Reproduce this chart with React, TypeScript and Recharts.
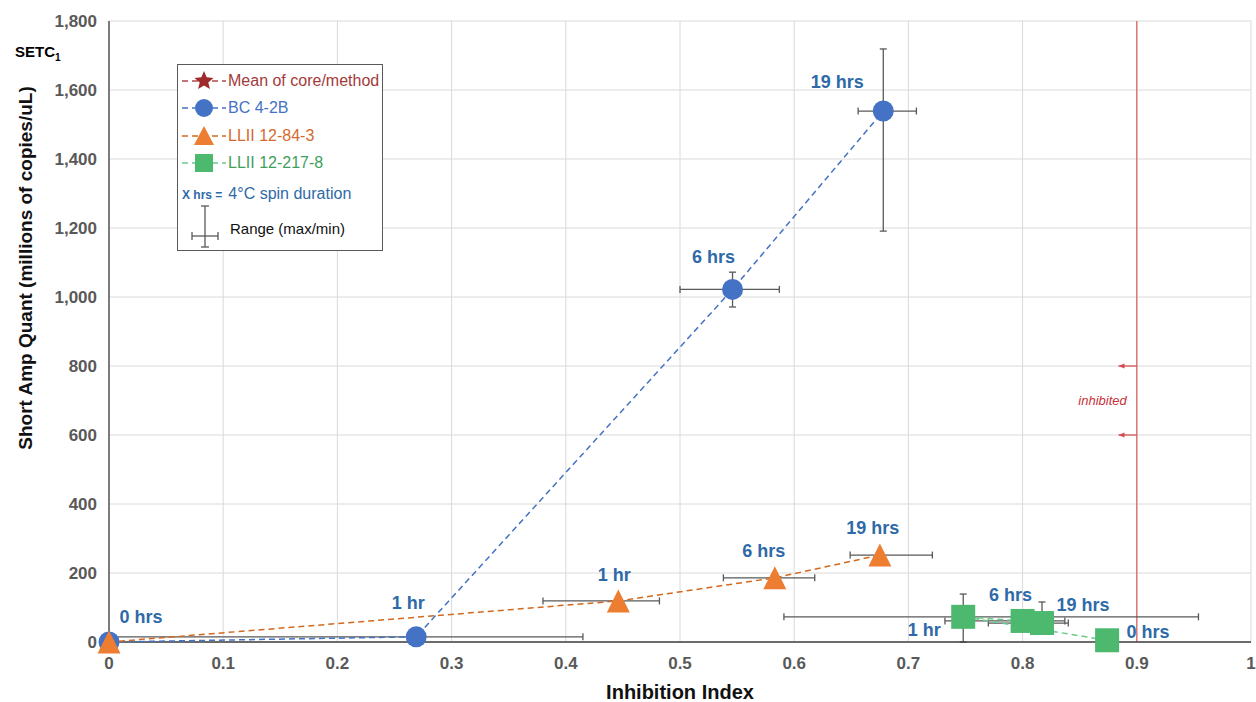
import React from 'react';
import { ScatterChart, Scatter, XAxis, YAxis, CartesianGrid, ErrorBar, ReferenceLine, Label } from 'recharts';

const FONT = '"Liberation Sans", Arial, sans-serif';

const xTicks = [0, 0.1, 0.2, 0.3, 0.4, 0.5, 0.6, 0.7, 0.8, 0.9, 1];
const yTicks = [0, 200, 400, 600, 800, 1000, 1200, 1400, 1600, 1800];

// BC 4-2B
const bcHours = ['0 hrs', '1 hr', '6 hrs', '19 hrs'];
const bcIndex = [0, 0.269, 0.546, 0.678];
const bcQuant = [0, 15, 1022, 1539];
const bcIndexMin = [null, 0, 0.5, 0.656];
const bcIndexMax = [null, 0.415, 0.587, 0.707];
const bcQuantMin = [null, null, 971, 1191];
const bcQuantMax = [null, null, 1072, 1719];

// LLII 12-84-3
const llaHours = ['', '1 hr', '6 hrs', '19 hrs'];
const llaIndex = [0, 0.446, 0.583, 0.675];
const llaQuant = [0, 119, 186, 252];
const llaIndexMin = [null, 0.38, 0.538, 0.649];
const llaIndexMax = [null, 0.482, 0.618, 0.721];
const llaQuantMin = [null, null, null, null];
const llaQuantMax = [null, null, null, null];

// LLII 12-217-8
const llbHours = ['0 hrs', '1 hr', '6 hrs', '19 hrs'];
const llbIndex = [0.874, 0.748, 0.8, 0.817];
const llbQuant = [5, 73, 61, 55];
const llbIndexMin = [null, 0.591, 0.732, 0.77];
const llbIndexMax = [null, 0.954, 0.837, 0.84];
const llbQuantMin = [null, 0, null, 35];
const llbQuantMax = [null, 139, null, 116];

// where the "x hrs" labels sit relative to each marker (px)
const bcLabelPos = [[32, -25], [-8, -34], [-19, -32], [-46, -29]];
const llaLabelPos = [[0, 0], [-4, -26], [-11, -27], [-7, -27]];
const llbLabelPos = [[41, -8], [-39, 13], [-12, -26], [41, -18]];

const build = (hours, xs, ys, xMin, xMax, yMin, yMax) =>
  xs.map((x, i) => ({
    i,
    label: hours[i],
    x,
    y: ys[i],
    xErr: xMin[i] == null ? null : [x - xMin[i], xMax[i] - x],
    yErr: yMin[i] == null ? null : [ys[i] - yMin[i], yMax[i] - ys[i]],
  }));

const bcData = build(bcHours, bcIndex, bcQuant, bcIndexMin, bcIndexMax, bcQuantMin, bcQuantMax);
const llaData = build(llaHours, llaIndex, llaQuant, llaIndexMin, llaIndexMax, llaQuantMin, llaQuantMax);
const llbData = build(llbHours, llbIndex, llbQuant, llbIndexMin, llbIndexMax, llbQuantMin, llbQuantMax);

const BLUE = '#4472C4';
const ORANGE = '#ED7D31';
const GREEN = '#4CB96F';
const LABEL = '#2E6AA8';
const RED = '#E06666';

const DataLabel = ({ cx, cy, text, pos }) =>
  text ? (
    <text x={cx + pos[0]} y={cy + pos[1]} textAnchor="middle" dominantBaseline="central"
      fontFamily={FONT} fontSize={18} fontWeight="bold" fill={LABEL}>
      {text}
    </text>
  ) : null;

const makeShape = (kind, color, labelPos) => (p) => {
  const { cx, cy, payload } = p;
  let mark;
  if (kind === 'circle') mark = <circle cx={cx} cy={cy} r={10.5} fill={color} />;
  else if (kind === 'triangle')
    mark = <path d={`M${cx},${cy - 11.5} L${cx + 11.5},${cy + 11.5} L${cx - 11.5},${cy + 11.5} Z`} fill={color} />;
  else mark = <rect x={cx - 12} y={cy - 12} width={24} height={24} fill={color} />;
  return (
    <g>
      {mark}
      <DataLabel cx={cx} cy={cy} text={payload.label} pos={labelPos[payload.i]} />
    </g>
  );
};

const ArrowShape = (p) => {
  const left = Math.min(p.x1, p.x2);
  const right = Math.max(p.x1, p.x2);
  return (
    <g>
      <line x1={left} y1={p.y1} x2={right} y2={p.y1} stroke="#D9484F" strokeWidth={1.2} />
      <path d={`M${left},${p.y1} l6,-2.5 l0,5 z`} fill="#D9484F" />
    </g>
  );
};

const InhibitedShape = (p) => (
  <text x={(p.x1 + p.x2) / 2} y={p.y1} textAnchor="middle" dominantBaseline="central"
    fontFamily={FONT} fontSize={13} fontStyle="italic" fill="#C8323C">
    inhibited
  </text>
);

const Star = ({ x, y, r, color }) => {
  const pts = [];
  for (let k = 0; k < 10; k++) {
    const rad = k % 2 === 0 ? r : r * 0.45;
    const a = -Math.PI / 2 + (k * Math.PI) / 5;
    pts.push(`${x + rad * Math.cos(a)},${y + rad * Math.sin(a)}`);
  }
  return <polygon points={pts.join(' ')} fill={color} />;
};

const LegendIcon = ({ color, kind }) => (
  <svg width={48} height={24} style={{ position: 'absolute', left: 2, top: 0 }}>
    <line x1={2} y1={12} x2={46} y2={12} stroke={color} strokeWidth={1.5} strokeDasharray="6 4" />
    {kind === 'star' && <Star x={24} y={12} r={10} color="#9E2A2B" />}
    {kind === 'circle' && <circle cx={24} cy={12} r={9} fill={BLUE} />}
    {kind === 'triangle' && <path d="M24,2 L34,21 L14,21 Z" fill={ORANGE} />}
    {kind === 'square' && <rect x={15} y={3} width={18} height={18} fill={GREEN} />}
  </svg>
);

const legendRows = [
  { text: 'Mean of core/method', color: '#A33A3A', line: '#B04848', kind: 'star', top: 4 },
  { text: 'BC 4-2B', color: '#4472C4', line: BLUE, kind: 'circle', top: 31 },
  { text: 'LLII 12-84-3', color: '#D46A2E', line: '#D2691E', kind: 'triangle', top: 59 },
  { text: 'LLII 12-217-8', color: '#3E9E5A', line: '#6CCB8A', kind: 'square', top: 86 },
];

const LegendBox = () => (
  <div style={{
    position: 'absolute', left: 177, top: 64, width: 206, height: 187, boxSizing: 'border-box',
    border: '1px solid #595959', background: '#fff', fontFamily: FONT, fontSize: 16,
  }}>
    {legendRows.map((r) => (
      <div key={r.text} style={{ position: 'absolute', left: 0, top: r.top, height: 24, width: 204 }}>
        <LegendIcon color={r.line} kind={r.kind} />
        <span style={{ position: 'absolute', left: 50, top: 3, color: r.color, whiteSpace: 'nowrap' }}>{r.text}</span>
      </div>
    ))}
    <div style={{ position: 'absolute', left: 4, top: 120, whiteSpace: 'nowrap', color: '#2E6AA8' }}>
      <span style={{ fontSize: 12, fontWeight: 'bold' }}>X hrs =</span>
      <span style={{ marginLeft: 6 }}>4°C spin duration</span>
    </div>
    <svg width={40} height={46} style={{ position: 'absolute', left: 8, top: 139 }}>
      <line x1={19} y1={2} x2={19} y2={43} stroke="#595959" strokeWidth={1.3} />
      <line x1={15} y1={2} x2={23} y2={2} stroke="#595959" strokeWidth={1.3} />
      <line x1={15} y1={43} x2={23} y2={43} stroke="#595959" strokeWidth={1.3} />
      <line x1={6} y1={32} x2={32} y2={32} stroke="#595959" strokeWidth={1.3} />
      <line x1={6} y1={28} x2={6} y2={36} stroke="#595959" strokeWidth={1.3} />
      <line x1={32} y1={28} x2={32} y2={36} stroke="#595959" strokeWidth={1.3} />
    </svg>
    <span style={{ position: 'absolute', left: 52, top: 155, fontSize: 15, color: '#111', whiteSpace: 'nowrap' }}>
      Range (max/min)
    </span>
  </div>
);

const tickStyle = { fill: '#595959', fontSize: 17, fontWeight: 'bold', fontFamily: FONT };

export default function App() {
  return (
    <div style={{ position: 'absolute', left: 0, top: 0, width: 1256, height: 702, background: '#fff' }}>
      <ScatterChart width={1256} height={702} margin={{ top: 21, right: 5, bottom: 0, left: 0 }}>
        <CartesianGrid stroke="#DADADA" strokeWidth={1} />
        <XAxis
          type="number"
          dataKey="x"
          domain={[0, 1]}
          ticks={xTicks}
          height={60}
          tickLine={false}
          tickMargin={9}
          axisLine={{ stroke: '#404040', strokeWidth: 1.3 }}
          tick={tickStyle}
        >
          <Label
            content={() => (
              <text x={680} y={692} textAnchor="middle" dominantBaseline="central"
                fontFamily={FONT} fontSize={20} fontWeight="bold" fill="#111">
                Inhibition Index
              </text>
            )}
          />
        </XAxis>
        <YAxis
          type="number"
          dataKey="y"
          domain={[0, 1800]}
          ticks={yTicks}
          width={109}
          tickLine={false}
          tickMargin={6}
          axisLine={{ stroke: '#404040', strokeWidth: 1.3 }}
          tick={tickStyle}
          tickFormatter={(v) => v.toLocaleString('en-US')}
        >
          <Label
            content={() => (
              <text x={25} y={268} transform="rotate(-90 25 268)" textAnchor="middle" dominantBaseline="central"
                fontFamily={FONT} fontSize={19} fontWeight="bold" fill="#111">
                Short Amp Quant (millions of copies/uL)
              </text>
            )}
          />
        </YAxis>

        <ReferenceLine x={0.9} stroke={RED} strokeWidth={1.3} />
        <ReferenceLine segment={[{ x: 0.884, y: 800 }, { x: 0.9, y: 800 }]} shape={ArrowShape} />
        <ReferenceLine segment={[{ x: 0.884, y: 600 }, { x: 0.9, y: 600 }]} shape={ArrowShape} />
        <ReferenceLine segment={[{ x: 0.84, y: 700 }, { x: 0.9, y: 700 }]} shape={InhibitedShape} />

        <Scatter
          name="BC 4-2B"
          data={bcData}
          fill={BLUE}
          line={{ stroke: BLUE, strokeWidth: 1.5, strokeDasharray: '6 4' }}
          lineJointType="linear"
          shape={makeShape('circle', BLUE, bcLabelPos)}
          isAnimationActive={false}
        >
          <ErrorBar dataKey="xErr" direction="x" width={3.5} stroke="#595959" strokeWidth={1.3} />
          <ErrorBar dataKey="yErr" direction="y" width={3.5} stroke="#595959" strokeWidth={1.3} />
        </Scatter>
        <Scatter
          name="LLII 12-84-3"
          data={llaData}
          fill={ORANGE}
          line={{ stroke: '#D2691E', strokeWidth: 1.5, strokeDasharray: '6 4' }}
          lineJointType="linear"
          shape={makeShape('triangle', ORANGE, llaLabelPos)}
          isAnimationActive={false}
        >
          <ErrorBar dataKey="xErr" direction="x" width={3.5} stroke="#595959" strokeWidth={1.3} />
        </Scatter>
        <Scatter
          name="LLII 12-217-8"
          data={llbData}
          fill={GREEN}
          line={{ stroke: '#6CCB8A', strokeWidth: 1.5, strokeDasharray: '6 4' }}
          lineJointType="linear"
          shape={makeShape('square', GREEN, llbLabelPos)}
          isAnimationActive={false}
        >
          <ErrorBar dataKey="xErr" direction="x" width={3.5} stroke="#595959" strokeWidth={1.3} />
          <ErrorBar dataKey="yErr" direction="y" width={3.5} stroke="#595959" strokeWidth={1.3} />
        </Scatter>
      </ScatterChart>

      <div style={{ position: 'absolute', left: 15, top: 43, fontFamily: FONT, fontWeight: 'bold', fontSize: 15, color: '#000' }}>
        SETC<sub style={{ fontSize: 10 }}>1</sub>
      </div>
      <LegendBox />
    </div>
  );
}
